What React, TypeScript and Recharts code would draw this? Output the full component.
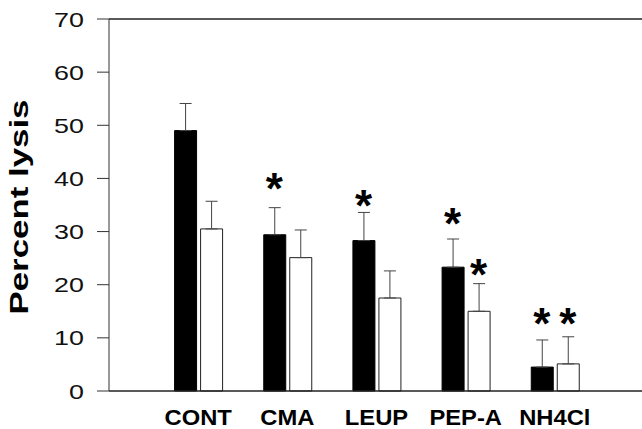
import React from 'react';
import { ComposedChart, Bar, XAxis, YAxis, ErrorBar, Scatter, ReferenceLine, Label } from 'recharts';

const categories = ['CONT', 'CMA', 'LEUP', 'PEP-A', 'NH4Cl'];
const blackValues = [49.0, 29.4, 28.3, 23.3, 4.5];
const blackErrors = [5.1, 5.1, 5.3, 5.3, 5.1];
const whiteValues = [30.5, 25.1, 17.5, 15.0, 5.1];
const whiteErrors = [5.2, 5.2, 5.1, 5.2, 5.1];
const blackStars: (number | null)[] = [null, 39.6, 36.4, 33.0, 14.2];
const whiteStars: (number | null)[] = [null, null, null, 23.4, 14.2];
const yTicks = [0, 10, 20, 30, 40, 50, 60, 70];

const data = categories.map((c, i) => ({
  pos: i + 1,
  name: c,
  black: blackValues[i],
  blackErr: [0, blackErrors[i]],
  white: whiteValues[i],
  whiteErr: [0, whiteErrors[i]],
  blackStar: blackStars[i],
  whiteStar: whiteStars[i],
}));

const FONT = '"Liberation Sans", Arial, Helvetica, sans-serif';

const renderYTick = (props: any) => {
  const { x, y, payload, index } = props;
  return (
    <text
      key={`yt-${index}`}
      x={0}
      y={0}
      transform={`translate(${x} ${y + 7.5}) scale(1.28 1)`}
      textAnchor="end"
      fontFamily={FONT}
      fontSize={21}
      fill="#111"
    >
      {payload.value}
    </text>
  );
};

const renderXTick = (props: any) => {
  const { x, y, payload, index } = props;
  const label = categories[payload.value - 1] ?? '';
  return (
    <text
      key={`xt-${index}`}
      x={0}
      y={0}
      transform={`translate(${x} ${y + 34}) scale(1.08 1)`}
      textAnchor="middle"
      fontFamily={FONT}
      fontSize={22}
      fontWeight="bold"
      fill="#000"
    >
      {label}
    </text>
  );
};

const makeStar = (key: string, dx: number) => (props: any) => {
  const { cx, cy, payload } = props;
  if (payload == null || payload[key] == null || cx == null || cy == null) return <g />;
  return (
    <text x={cx + dx} y={cy + 23} textAnchor="middle" fontFamily={FONT} fontSize={44} fontWeight="bold" fill="#000">
      *
    </text>
  );
};

const YLabel = (props: any) => {
  const vb = props.viewBox || { x: 0, y: 19, width: 109, height: 372 };
  const bx = vb.x + 28;
  const cy = vb.y + vb.height / 2 + 2;
  return (
    <text
      x={bx}
      y={cy}
      transform={`rotate(-90 ${bx} ${cy})`}
      textAnchor="middle"
      fontFamily={FONT}
      fontSize={25}
      fontWeight="bold"
      fill="#000"
      textLength={215}
      lengthAdjust="spacingAndGlyphs"
    >
      Percent lysis
    </text>
  );
};

export default function App() {
  return (
    <div style={{ position: 'absolute', left: 0, top: 0, width: 642, height: 429, overflow: 'hidden', background: '#fff' }}>
      <ComposedChart
        width={645}
        height={429}
        data={data}
        margin={{ top: 19, right: 1, bottom: 0, left: 0 }}
        barSize={22}
        barGap={4}
      >
        <XAxis
          dataKey="pos"
          type="number"
          domain={[0, 6]}
          ticks={[1, 2, 3, 4, 5]}
          height={38}
          tickLine={false}
          tickSize={0}
          tickMargin={0}
          axisLine={{ stroke: '#222', strokeWidth: 1.5 }}
          tick={renderXTick}
          interval={0}
          allowDecimals={false}
        />
        <YAxis
          type="number"
          domain={[0, 70]}
          ticks={yTicks}
          width={109}
          tickSize={12}
          tickMargin={13}
          axisLine={{ stroke: '#333', strokeWidth: 1 }}
          tickLine={{ stroke: '#333', strokeWidth: 1 }}
          tick={renderYTick}
          interval={0}
        >
          <Label content={<YLabel />} position="insideLeft" />
        </YAxis>
        <ReferenceLine y={70} stroke="#222" strokeWidth={1.5} />
        <Bar dataKey="black" fill="#000" stroke="#000" strokeWidth={1} isAnimationActive={false}>
          <ErrorBar dataKey="blackErr" width={6} stroke="#444" strokeWidth={1} direction="y" />
        </Bar>
        <Bar dataKey="white" fill="#fff" stroke="#222" strokeWidth={1} isAnimationActive={false}>
          <ErrorBar dataKey="whiteErr" width={6} stroke="#444" strokeWidth={1} direction="y" />
        </Bar>
        <Scatter dataKey="blackStar" isAnimationActive={false} shape={makeStar('blackStar', -13)} />
        <Scatter dataKey="whiteStar" isAnimationActive={false} shape={makeStar('whiteStar', 13)} />
      </ComposedChart>
    </div>
  );
}
